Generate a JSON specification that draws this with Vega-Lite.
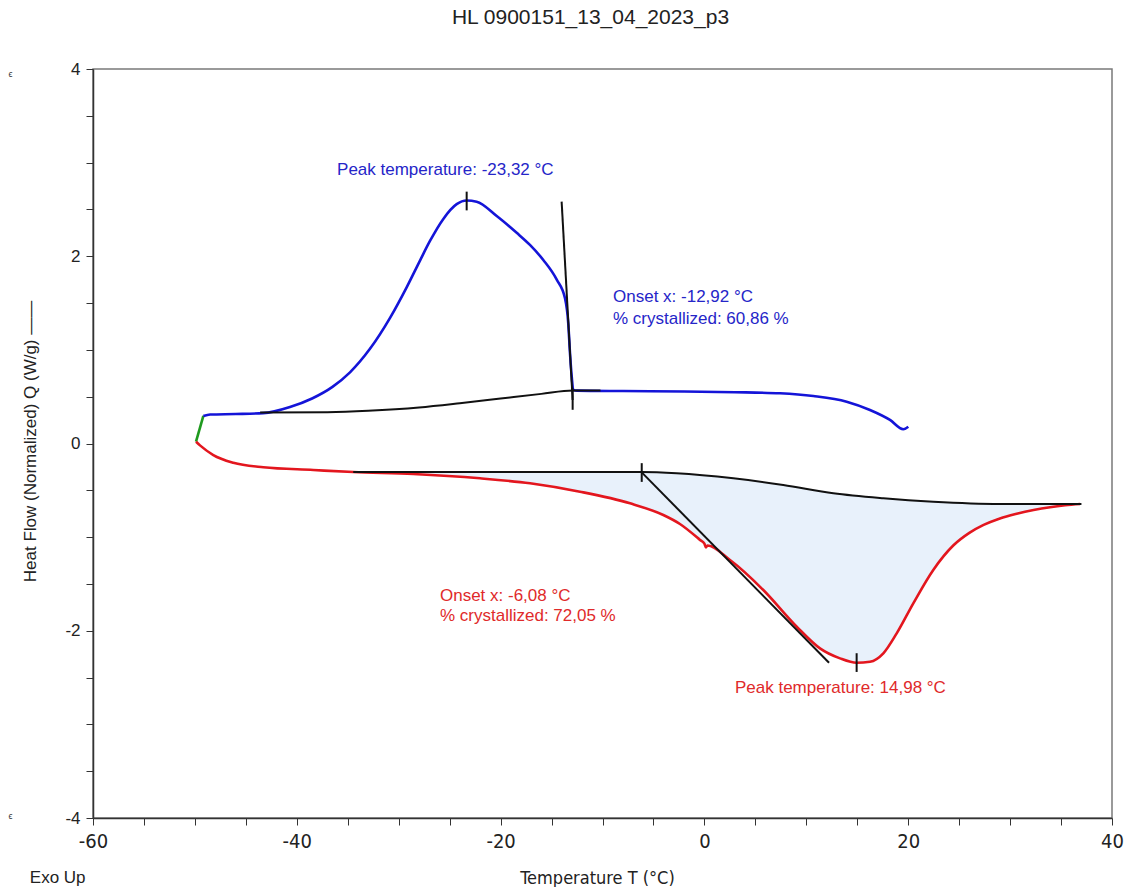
{
  "$schema": "https://vega.github.io/schema/vega-lite/v6.json",
  "width": 1019,
  "height": 749,
  "autosize": "none",
  "padding": {"left": 93, "top": 69, "right": 13, "bottom": 69},
  "background": "white",
  "title": {"text": "HL 0900151_13_04_2023_p3", "anchor": "middle", "fontSize": 21, "font": "Liberation Sans", "fontWeight": "normal", "color": "#222", "offset": 32, "dx": -12},
  "config": {
    "view": {"stroke": "#7a7a7a", "strokeWidth": 1.5},
    "axis": {"grid": false, "domainColor": "#333", "domainWidth": 1.5, "tickColor": "#333", "labelColor": "#222", "titleColor": "#222", "titleFontWeight": "normal"}
  },
  "datasets": {
    "curves": [
      {"id": "green", "T": -49.89, "Q": 0.019}, {"id": "green", "T": -49.17, "Q": 0.294},
      {"id": "blue", "T": -49.17, "Q": 0.294}, {"id": "blue", "T": -48.5, "Q": 0.31}, {"id": "blue", "T": -46, "Q": 0.315},
      {"id": "blue", "T": -43.3, "Q": 0.324}, {"id": "blue", "T": -40.67, "Q": 0.39}, {"id": "blue", "T": -38.5, "Q": 0.481},
      {"id": "blue", "T": -36.5, "Q": 0.605}, {"id": "blue", "T": -34.78, "Q": 0.76}, {"id": "blue", "T": -32.82, "Q": 1.011},
      {"id": "blue", "T": -30.85, "Q": 1.342}, {"id": "blue", "T": -29.22, "Q": 1.668}, {"id": "blue", "T": -27.91, "Q": 1.954},
      {"id": "blue", "T": -26.93, "Q": 2.163}, {"id": "blue", "T": -25.62, "Q": 2.399}, {"id": "blue", "T": -24.31, "Q": 2.556},
      {"id": "blue", "T": -23.33, "Q": 2.595}, {"id": "blue", "T": -22.35, "Q": 2.583}, {"id": "blue", "T": -20.38, "Q": 2.43},
      {"id": "blue", "T": -18.42, "Q": 2.25}, {"id": "blue", "T": -17.12, "Q": 2.121}, {"id": "blue", "T": -15.81, "Q": 1.96},
      {"id": "blue", "T": -14.49, "Q": 1.75}, {"id": "blue", "T": -13.68, "Q": 1.551}, {"id": "blue", "T": -13.36, "Q": 1.284},
      {"id": "blue", "T": -13.19, "Q": 0.964}, {"id": "blue", "T": -13.02, "Q": 0.714}, {"id": "blue", "T": -12.87, "Q": 0.572},
      {"id": "blue", "T": -12.5, "Q": 0.565}, {"id": "blue", "T": -8, "Q": 0.56}, {"id": "blue", "T": -2, "Q": 0.555},
      {"id": "blue", "T": 3, "Q": 0.548}, {"id": "blue", "T": 7.42, "Q": 0.536}, {"id": "blue", "T": 10.69, "Q": 0.507},
      {"id": "blue", "T": 13.96, "Q": 0.447}, {"id": "blue", "T": 16.25, "Q": 0.358}, {"id": "blue", "T": 18.21, "Q": 0.252},
      {"id": "blue", "T": 19.52, "Q": 0.152}, {"id": "blue", "T": 20.01, "Q": 0.179},
      {"id": "red", "T": -49.89, "Q": 0.019}, {"id": "red", "T": -49.5, "Q": -0.02}, {"id": "red", "T": -48.19, "Q": -0.123},
      {"id": "red", "T": -46.23, "Q": -0.205}, {"id": "red", "T": -43.29, "Q": -0.254}, {"id": "red", "T": -38.38, "Q": -0.283},
      {"id": "red", "T": -34.46, "Q": -0.305}, {"id": "red", "T": -28.57, "Q": -0.326}, {"id": "red", "T": -22.02, "Q": -0.372},
      {"id": "red", "T": -17.11, "Q": -0.425}, {"id": "red", "T": -12.21, "Q": -0.515}, {"id": "red", "T": -7.3, "Q": -0.639},
      {"id": "red", "T": -4.03, "Q": -0.764}, {"id": "red", "T": -2.4, "Q": -0.86}, {"id": "red", "T": -0.43, "Q": -1.03},
      {"id": "red", "T": 0.0, "Q": -1.07}, {"id": "red", "T": 0.15, "Q": -1.11}, {"id": "red", "T": 0.3, "Q": -1.09},
      {"id": "red", "T": 2.51, "Q": -1.245}, {"id": "red", "T": 5.78, "Q": -1.565}, {"id": "red", "T": 9.06, "Q": -1.957},
      {"id": "red", "T": 11.34, "Q": -2.188}, {"id": "red", "T": 13.31, "Q": -2.295}, {"id": "red", "T": 14.94, "Q": -2.342},
      {"id": "red", "T": 16.25, "Q": -2.331}, {"id": "red", "T": 17.56, "Q": -2.241}, {"id": "red", "T": 18.87, "Q": -2.028},
      {"id": "red", "T": 20.5, "Q": -1.707}, {"id": "red", "T": 22.46, "Q": -1.351}, {"id": "red", "T": 24.42, "Q": -1.09},
      {"id": "red", "T": 26.0, "Q": -0.955}, {"id": "red", "T": 27.4, "Q": -0.87}, {"id": "red", "T": 29.0, "Q": -0.8},
      {"id": "red", "T": 30.65, "Q": -0.75}, {"id": "red", "T": 32.3, "Q": -0.71}, {"id": "red", "T": 33.92, "Q": -0.68},
      {"id": "red", "T": 35.4, "Q": -0.66}, {"id": "red", "T": 36.86, "Q": -0.646},
      {"id": "baseBlue", "T": -43.6, "Q": 0.33}, {"id": "baseBlue", "T": -37, "Q": 0.335}, {"id": "baseBlue", "T": -33, "Q": 0.35},
      {"id": "baseBlue", "T": -28, "Q": 0.385}, {"id": "baseBlue", "T": -24, "Q": 0.43}, {"id": "baseBlue", "T": -20, "Q": 0.48},
      {"id": "baseBlue", "T": -16, "Q": 0.53}, {"id": "baseBlue", "T": -12.9, "Q": 0.565}, {"id": "baseBlue", "T": -10.2, "Q": 0.565},
      {"id": "baseRed", "T": -34.46, "Q": -0.305}, {"id": "baseRed", "T": -6.15, "Q": -0.305}, {"id": "baseRed", "T": -2.73, "Q": -0.318},
      {"id": "baseRed", "T": 2.84, "Q": -0.372}, {"id": "baseRed", "T": 7.74, "Q": -0.443}, {"id": "baseRed", "T": 12.65, "Q": -0.532},
      {"id": "baseRed", "T": 17.56, "Q": -0.585}, {"id": "baseRed", "T": 22.46, "Q": -0.622}, {"id": "baseRed", "T": 29.0, "Q": -0.646},
      {"id": "baseRed", "T": 37.0, "Q": -0.646},
      {"id": "tanBlue", "T": -14.01, "Q": 2.583}, {"id": "tanBlue", "T": -12.93, "Q": 0.465},
      {"id": "tanRed", "T": -6.15, "Q": -0.308}, {"id": "tanRed", "T": 12.23, "Q": -2.342},
      {"id": "tk1", "T": -23.33, "Q": 2.49}, {"id": "tk1", "T": -23.33, "Q": 2.69},
      {"id": "tk2", "T": -12.93, "Q": 0.36}, {"id": "tk2", "T": -12.93, "Q": 0.59},
      {"id": "tk3", "T": -6.15, "Q": -0.21}, {"id": "tk3", "T": -6.15, "Q": -0.41},
      {"id": "tk4", "T": 14.94, "Q": -2.24}, {"id": "tk4", "T": 14.94, "Q": -2.44}
    ],
    "fill": [
      {"T": -34.46, "lo": -0.305, "hi": -0.305}, {"T": -28.57, "lo": -0.326, "hi": -0.305}, {"T": -22.02, "lo": -0.372, "hi": -0.305},
      {"T": -17.11, "lo": -0.425, "hi": -0.305}, {"T": -12.21, "lo": -0.515, "hi": -0.305}, {"T": -7.3, "lo": -0.639, "hi": -0.305},
      {"T": -4.03, "lo": -0.764, "hi": -0.313}, {"T": -2.4, "lo": -0.86, "hi": -0.321}, {"T": -0.43, "lo": -1.03, "hi": -0.341},
      {"T": 0.22, "lo": -1.084, "hi": -0.347}, {"T": 2.51, "lo": -1.245, "hi": -0.369}, {"T": 5.78, "lo": -1.565, "hi": -0.415},
      {"T": 9.06, "lo": -1.957, "hi": -0.467}, {"T": 11.34, "lo": -2.188, "hi": -0.508}, {"T": 13.31, "lo": -2.295, "hi": -0.539},
      {"T": 14.94, "lo": -2.342, "hi": -0.557}, {"T": 16.25, "lo": -2.331, "hi": -0.571}, {"T": 17.56, "lo": -2.241, "hi": -0.585},
      {"T": 18.87, "lo": -2.028, "hi": -0.595}, {"T": 20.5, "lo": -1.707, "hi": -0.607}, {"T": 22.46, "lo": -1.351, "hi": -0.622},
      {"T": 24.42, "lo": -1.09, "hi": -0.629}, {"T": 26.0, "lo": -0.955, "hi": -0.634}, {"T": 27.4, "lo": -0.87, "hi": -0.639},
      {"T": 29.0, "lo": -0.8, "hi": -0.646}, {"T": 30.65, "lo": -0.75, "hi": -0.646}, {"T": 32.3, "lo": -0.71, "hi": -0.646},
      {"T": 33.92, "lo": -0.68, "hi": -0.646}, {"T": 35.4, "lo": -0.66, "hi": -0.646}, {"T": 36.86, "lo": -0.646, "hi": -0.646}
    ],
    "labels": [
      {"T": -36.05, "Q": 2.92, "t": "Peak temperature: -23,32 °C", "c": "b"},
      {"T": -8.97, "Q": 1.565, "t": "Onset x: -12,92 °C", "c": "b"},
      {"T": -8.97, "Q": 1.33, "t": "% crystallized: 60,86 %", "c": "b"},
      {"T": -25.95, "Q": -1.63, "t": "Onset x: -6,08 °C", "c": "r"},
      {"T": -25.95, "Q": -1.843, "t": "% crystallized: 72,05 %", "c": "r"},
      {"T": 3.0, "Q": -2.612, "t": "Peak temperature: 14,98 °C", "c": "r"}
    ],
    "exo": [
      {"T": -66.2, "Q": -4.64, "t": "Exo Up"}
    ],
    "eps": [
      {"T": -68.3, "Q": 3.95, "t": "ϵ"},
      {"T": -68.3, "Q": -3.98, "t": "ϵ"}
    ]
  },
  "layer": [
    {
      "data": {"name": "fill"},
      "mark": {"type": "area", "color": "#e8f1fb", "opacity": 1, "interpolate": "monotone"},
      "encoding": {
        "x": {"field": "T", "type": "quantitative", "scale": {"domain": [-60, 40], "nice": false, "zero": false},
          "axis": {"values": [-60, -55, -50, -45, -40, -35, -30, -25, -20, -15, -10, -5, 0, 5, 10, 15, 20, 25, 30, 35, 40],
            "labelExpr": "datum.value % 20 === 0 ? '' + datum.value : ''", "tickSize": 7, "labelFontSize": 20, "labelFont": "Liberation Sans Narrow, DejaVu Sans Condensed, Liberation Sans", "labelPadding": 6, "labelFlush": false,
            "title": "Temperature  T  (°C)", "titleFont": "Liberation Sans Narrow, DejaVu Sans Condensed, Liberation Sans", "titleFontSize": 18, "titleX": 504, "titleY": 60, "titleBaseline": "middle", "titleAnchor": null}},
        "y": {"field": "lo", "type": "quantitative", "scale": {"domain": [-4, 4], "nice": false, "zero": false},
          "axis": {"values": [-4, -3.5, -3, -2.5, -2, -1.5, -1, -0.5, 0, 0.5, 1, 1.5, 2, 2.5, 3, 3.5, 4],
            "labelExpr": "datum.value % 2 === 0 ? '' + datum.value : ''", "tickSize": 7, "labelFontSize": 17, "labelFont": "Liberation Sans", "labelPadding": 6, "labelFlush": false,
            "title": "Heat Flow (Normalized)   Q   (W/g)  ——", "titleFont": "Liberation Sans", "titleFontSize": 17, "titleAngle": -90, "titleX": -63, "titleY": 372, "titleBaseline": "middle", "titleAnchor": null}},
        "y2": {"field": "hi"}
      }
    },
    {
      "data": {"name": "curves"},
      "transform": [{"filter": "datum.id == 'blue' || datum.id == 'red' || datum.id == 'green'"}],
      "mark": {"type": "line", "strokeWidth": 2.6, "strokeJoin": "round", "interpolate": "monotone"},
      "encoding": {
        "x": {"field": "T", "type": "quantitative"},
        "y": {"field": "Q", "type": "quantitative"},
        "detail": {"field": "id"},
        "color": {"field": "id", "type": "nominal", "scale": {"domain": ["blue", "red", "green"], "range": ["#1414d8", "#e3161e", "#1f9a1f"]}, "legend": null}
      }
    },
    {
      "data": {"name": "curves"},
      "transform": [{"filter": "datum.id != 'blue' && datum.id != 'red' && datum.id != 'green'"}],
      "mark": {"type": "line", "color": "#111111", "strokeJoin": "round", "interpolate": "monotone"},
      "encoding": {
        "x": {"field": "T", "type": "quantitative"},
        "y": {"field": "Q", "type": "quantitative"},
        "detail": {"field": "id"},
        "strokeWidth": {"field": "id", "type": "nominal", "scale": {"domain": ["baseBlue", "baseRed", "tanBlue", "tanRed", "tk1", "tk2", "tk3", "tk4"], "range": [2, 2, 2, 2, 1.2, 1.2, 1.2, 1.2]}, "legend": null}
      }
    },
    {
      "data": {"name": "labels"},
      "mark": {"type": "text", "align": "left", "baseline": "middle", "fontSize": 17, "font": "Liberation Sans"},
      "encoding": {
        "x": {"field": "T", "type": "quantitative"},
        "y": {"field": "Q", "type": "quantitative"},
        "text": {"field": "t"},
        "color": {"field": "c", "type": "nominal", "scale": {"domain": ["b", "r"], "range": ["#2525c8", "#e02a2a"]}, "legend": null}
      }
    },
    {
      "data": {"name": "exo"},
      "mark": {"type": "text", "align": "left", "baseline": "middle", "font": "Liberation Sans", "fontSize": 17, "color": "#222"},
      "encoding": {
        "x": {"field": "T", "type": "quantitative"},
        "y": {"field": "Q", "type": "quantitative"},
        "text": {"field": "t"}
      }
    },
    {
      "data": {"name": "eps"},
      "mark": {"type": "text", "align": "left", "baseline": "middle", "font": "Liberation Sans", "fontSize": 9, "color": "#333"},
      "encoding": {
        "x": {"field": "T", "type": "quantitative"},
        "y": {"field": "Q", "type": "quantitative"},
        "text": {"field": "t"}
      }
    }
  ],
  "resolve": {"scale": {"color": "independent", "strokeWidth": "independent"}}
}
